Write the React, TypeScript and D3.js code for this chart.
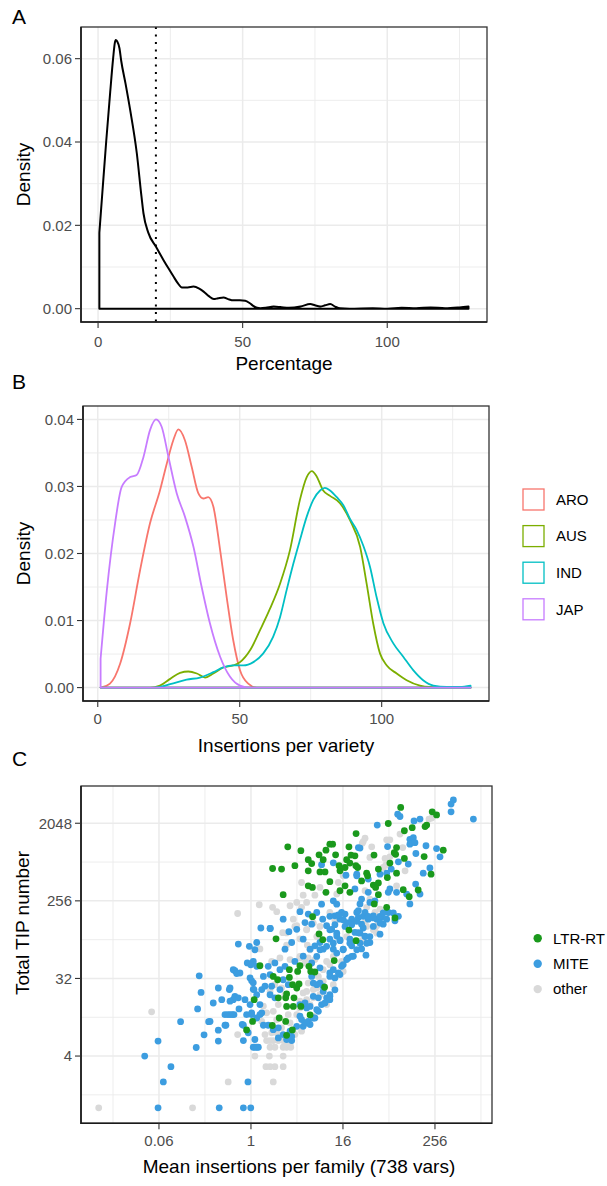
import React, { useEffect } from 'react';
import * as d3 from 'd3';

const FONT = "'Liberation Sans', Arial, Helvetica, sans-serif";

// ---------- Panel A: density of percentage ----------
const pctX = [0.45, 1.5, 2.8, 4.2, 5.2, 5.8, 6.1, 6.6, 7.4, 8.0, 9.5, 11.1, 13.4, 15.0, 15.7, 17.4, 20, 22.6, 24.5, 26.1, 27.5, 29, 31, 33, 35, 36.5, 38.3, 40, 41.5, 43.4, 45, 46.8, 49, 50.9, 52.5, 53.8, 55, 56.1, 58, 60.7, 63, 66, 70, 73.4, 75, 76.8, 78.5, 80.3, 82, 83.7, 87, 95, 100, 105, 110, 115, 120, 125, 128.1];
const pctDensity = [0.0182, 0.028, 0.040, 0.052, 0.0600, 0.0638, 0.0645, 0.0642, 0.0625, 0.0595, 0.054, 0.0477, 0.0373, 0.027, 0.0229, 0.0182, 0.0149, 0.0117, 0.0095, 0.0077, 0.0062, 0.0051, 0.0051, 0.0053, 0.0048, 0.0041, 0.003, 0.0023, 0.0025, 0.0027, 0.0023, 0.0020, 0.0020, 0.0019, 0.0013, 0.0006, 0.0002, 0.0001, 0.0002, 0.0005, 0.0004, 0.0002, 0.0005, 0.0011, 0.0008, 0.0005, 0.0008, 0.0011, 0.0005, 0.0001, 0.0, 0.0001, 0.0, 0.0002, 0.0001, 0.0003, 0.0001, 0.0003, 0.0005];
const pctCutoff = 20;
const pctXTicks = [0, 50, 100];
const pctXMinor = [25, 75, 125];
const densATicks = [0, 0.02, 0.04, 0.06];
const densAMinor = [0.01, 0.03, 0.05];

// ---------- Panel B: insertions per variety by group ----------
const groups = ['ARO', 'AUS', 'IND', 'JAP'];
const groupColors = ['#F8766D', '#7CAE00', '#00BFC4', '#C77CFF'];
const aroX = [1, 4.3, 7.9, 11.4, 14.9, 18.4, 21.9, 24.3, 26.6, 28.4, 30.7, 33.1, 35.4, 37.2, 38.9, 40.7, 43.1, 45.4, 47.7, 50.1, 53, 56, 60, 131.3];
const aroY = [0, 0.0006, 0.0036, 0.0096, 0.0175, 0.0245, 0.0294, 0.0334, 0.0369, 0.0385, 0.0369, 0.0329, 0.029, 0.0282, 0.0284, 0.027, 0.0205, 0.0135, 0.0071, 0.0026, 0.0006, 0, 0, 0];
const ausX = [1, 15, 18.4, 21.9, 25.5, 29, 31.9, 34.9, 37.8, 40.7, 44.2, 47.7, 50.1, 53.7, 57.2, 60.7, 64.2, 67.7, 71.2, 73.6, 75.4, 77.1, 79.4, 81.8, 85.3, 88.8, 92.4, 94.7, 97.0, 99.4, 101.8, 105.3, 108.8, 113.5, 117, 131.3];
const ausY = [0, 0, 0, 0.0003, 0.0013, 0.0022, 0.0024, 0.0021, 0.0015, 0.0021, 0.003, 0.0033, 0.0038, 0.0056, 0.0086, 0.0118, 0.0155, 0.0205, 0.028, 0.0314, 0.0323, 0.0315, 0.0294, 0.0286, 0.0275, 0.025, 0.021, 0.0155, 0.0096, 0.0051, 0.0033, 0.0021, 0.0011, 0.0003, 0.0001, 0];
const indX = [1, 19.7, 25.5, 31.3, 36, 40.7, 44.2, 47.7, 51.3, 54.8, 58.3, 61.8, 64.2, 66.5, 68.9, 71.2, 73.6, 75.9, 78.3, 80.0, 81.8, 84.2, 86.5, 88.8, 91.2, 93.5, 95.9, 98.2, 100.6, 104.1, 107.6, 111.1, 114.6, 118.2, 122.9, 127.6, 131.3];
const indY = [0, 0, 0.0005, 0.0012, 0.0015, 0.0023, 0.003, 0.0033, 0.0033, 0.0038, 0.0051, 0.0076, 0.0105, 0.0145, 0.0185, 0.022, 0.0255, 0.028, 0.0294, 0.0298, 0.0294, 0.0284, 0.0272, 0.0252, 0.0235, 0.0212, 0.018, 0.0135, 0.0096, 0.0066, 0.0046, 0.0026, 0.0011, 0.0003, 0.0001, 0.0001, 0.0003];
const japX = [1, 3.2, 6.1, 8.4, 11.4, 13.7, 16.1, 18.4, 20.5, 22.5, 24.9, 27.8, 30.7, 33.7, 36.6, 39.5, 43.1, 46.6, 50.1, 53.7, 131.3];
const japY = [0.0043, 0.0145, 0.0245, 0.0299, 0.0314, 0.0317, 0.0344, 0.0384, 0.0400, 0.0389, 0.0344, 0.029, 0.0255, 0.021, 0.015, 0.0096, 0.0046, 0.0016, 0.0003, 0, 0];
const insXTicks = [0, 50, 100];
const insXMinor = [25, 75, 125];
const densBTicks = [0, 0.01, 0.02, 0.03, 0.04];
const densBMinor = [0.005, 0.015, 0.025, 0.035];

// ---------- Panel C: [log2 mean insertions per family, log2 total TIP number] ----------
const otherPoints: [number, number][] = [
  [-6.62, 0], [-2.54, 0], [-4.32, 3.71], [-0.99, 1.0], [0.97, 1.0], [0.65, 1.59], [0.83, 1.59], [1.04, 1.59], [1.4, 1.59],
  [0.17, 2.0], [0.8, 2.0], [1.4, 2.0], [0.83, 2.34], [1.04, 2.34], [1.4, 2.34], [1.55, 2.34], [1.73, 2.34], [0.68, 2.6],
  [0.83, 2.6], [0.97, 2.6], [1.19, 2.6], [1.4, 2.6], [-0.58, 2.83], [0.54, 3.93], [0.68, 3.67], [0.47, 3.34], [0.61, 2.83],
  [0.9, 2.9], [1.12, 2.9], [1.33, 3.09], [1.12, 3.41], [0.97, 3.73], [1.19, 3.99], [1.62, 3.6], [1.99, 3.6], [2.13, 3.86],
  [2.57, 3.99], [2.71, 4.25], [3.0, 4.37], [2.86, 4.63], [3.14, 4.89], [2.42, 4.5], [2.49, 4.82], [2.13, 4.12], [0.83, 4.5],
  [1.33, 4.63], [1.48, 4.37], [1.04, 4.76], [0.9, 5.66], [1.26, 5.79], [1.7, 5.73], [2.13, 5.79], [2.49, 5.79], [2.78, 5.73],
  [3.43, 5.53], [3.94, 5.66], [4.01, 5.27], [3.58, 4.76], [3.29, 3.99], [2.71, 3.54], [2.2, 2.96], [1.91, 2.83], [1.55, 2.44],
  [-0.58, 7.51], [0.36, 7.85], [0.94, 7.75], [1.12, 7.58], [1.7, 7.81], [1.99, 7.94], [2.2, 7.75], [2.42, 7.94], [2.2, 8.71],
  [2.27, 8.22], [2.78, 8.22], [3.0, 8.52], [1.38, 6.77], [1.84, 7.29], [1.99, 7.04], [2.42, 6.9], [2.71, 7.42], [3.43, 7.55],
  [3.73, 8.26], [3.8, 8.71], [4.01, 8.97], [3.65, 7.23], [0.39, 6.14], [1.55, 6.29], [2.13, 6.53], [2.45, 6.29],
  [7.74, 11.16], [4.96, 10.42], [4.84, 10.23], [5.25, 10.09], [6.04, 10.36], [6.48, 10.58], [6.6, 10.06], [5.17, 9.68],
  [5.83, 9.64], [6.04, 9.7], [5.75, 9.29], [5.86, 9.38], [6.7, 9.16], [4.96, 8.39], [6.33, 8.58], [5.17, 8.07], [5.03, 7.75],
  [5.39, 7.55], [5.61, 7.68], [4.96, 7.16], [5.47, 7.04], [5.39, 6.85], [4.81, 6.46],
  [1.55, 6.76], [1.91, 7.01], [2.42, 6.88], [2.71, 7.14], [3.0, 7.01], [2.86, 6.62], [2.57, 6.11], [2.13, 5.85], [2.35, 5.6],
  [3.14, 5.34], [2.93, 5.08], [3.29, 5.66], [3.58, 5.85], [4.16, 6.62], [5.03, 7.01], [5.32, 6.88], [5.47, 6.75], [2.71, 4.57],
  [2.42, 4.18], [2.27, 4.44], [2.13, 4.05], [1.7, 3.28], [1.55, 2.64], [1.7, 2.44], [7.86, 11.2], [5.9, 10.36], [4.88, 10.29]
];
const mitePoints: [number, number][] = [
  [-4.04, 0], [-1.38, 0], [-0.33, 0], [-0.01, 0], [-2.25, 5.1], [-2.17, 4.46], [-2.32, 3.82], [-3.06, 3.33], [-1.84, 3.33],
  [-1.42, 3.0], [-2.04, 2.82], [-1.42, 2.58], [-4.04, 2.58], [-2.38, 2.33], [-4.62, 2.0], [-3.48, 1.59], [-3.81, 1.0],
  [-0.13, 1.0], [-0.33, 2.6], [0.1, 2.34], [0.32, 2.34], [1.77, 2.6],
  [-0.7, 5.3], [-0.48, 5.21], [0.1, 5.66], [0.25, 5.47], [-0.04, 5.02], [0.03, 4.91], [-0.91, 4.63], [-0.7, 4.31], [-0.77, 4.18],
  [-0.55, 4.25], [-0.52, 3.82], [-1.13, 3.6], [-0.91, 3.6], [-0.74, 3.6], [-1.13, 3.19], [-0.33, 3.19], [0.1, 4.58], [0.25, 4.37],
  [0.47, 4.57], [0.61, 4.7], [-0.04, 3.99], [0.03, 3.67], [0.25, 3.47], [0.47, 3.67], [0.39, 3.99], [0.17, 2.64], [0.54, 3.19],
  [0.75, 3.19], [0.97, 3.02], [1.19, 3.09], [1.4, 2.83], [1.77, 2.76], [1.99, 3.15], [2.27, 3.15], [2.49, 3.34], [0.83, 4.37],
  [1.04, 4.25], [0.9, 4.7], [1.26, 4.57], [1.4, 4.95], [1.62, 4.76], [0.83, 5.15], [0.54, 5.08], [0.75, 5.47], [1.04, 5.6],
  [1.26, 5.34], [1.48, 5.47], [1.91, 5.66], [2.27, 5.86], [2.64, 5.08], [3.0, 5.41], [3.43, 5.21], [3.65, 5.02], [3.87, 5.15],
  [4.01, 5.53], [4.23, 5.79], [4.45, 5.86], [2.13, 3.99], [2.42, 3.86], [2.2, 3.41], [2.35, 3.28], [2.57, 3.22], [2.78, 3.47],
  [2.93, 3.73], [3.07, 3.99], [3.29, 4.25], [3.43, 4.37], [3.14, 4.5], [2.86, 4.76], [2.93, 4.25], [1.19, 2.7], [1.55, 2.64], [1.7, 2.96],
  [0.43, 6.95], [0.84, 6.93], [-1.01, 3.6], [-0.81, 3.6], [-0.19, 3.6], [0.03, 3.6], [0.39, 3.6], [-0.91, 4.12], [-0.26, 4.18],
  [-0.77, 5.34], [-0.62, 5.19], [-0.16, 5.6], [-0.01, 5.53], [0.1, 4.83], [0.13, 4.57], [-0.94, 4.57], [-1.42, 4.63], [-1.27, 4.18],
  [-1.64, 4.05], [-1.78, 3.34], [-1.09, 3.19], [-0.38, 3.22], [-0.12, 2.9], [0.17, 2.34], [0.25, 2.34],
  [-0.55, 6.33], [-0.07, 6.24], [0.25, 6.39], [0.17, 6.11], [0.83, 6.93], [1.4, 7.29], [1.65, 6.81], [2.13, 7.58], [1.99, 6.9],
  [1.77, 6.39], [1.48, 6.13], [2.27, 6.52], [2.35, 7.16], [2.64, 7.1], [2.49, 7.49], [2.86, 7.55], [3.07, 7.87], [3.12, 7.29],
  [3.29, 7.04], [3.58, 8.0], [3.73, 7.87], [3.65, 7.42], [3.87, 7.29], [3.51, 6.9], [3.73, 6.64], [3.94, 7.55], [4.09, 7.49],
  [4.16, 7.16], [4.38, 7.29], [4.6, 7.55], [4.67, 7.36], [4.52, 6.78], [4.3, 6.52], [3.87, 6.46], [3.43, 6.52], [3.0, 6.39],
  [2.78, 6.26], [2.57, 6.13], [3.14, 6.13], [3.58, 6.13], [4.01, 6.13], [4.38, 6.26], [3.07, 9.4], [3.58, 9.47], [4.67, 10.06],
  [4.6, 9.03], [4.13, 8.99],
  [8.8, 11.9], [8.7, 11.74], [8.7, 11.44], [9.67, 11.16], [6.38, 11.35], [6.48, 11.26], [5.49, 10.93], [7.09, 11.09], [7.35, 11.16],
  [6.91, 10.38], [7.06, 10.44], [6.91, 10.19], [7.13, 10.25], [7.61, 10.13], [8.07, 10.02], [8.22, 9.7], [7.17, 9.83], [5.94, 10.1],
  [4.74, 10.04], [6.41, 9.51], [6.84, 9.42], [7.78, 9.27], [7.49, 9.07], [6.1, 9.23], [5.9, 9.07], [5.1, 8.84], [5.61, 9.03],
  [4.6, 8.97], [7.16, 8.65], [7.35, 8.26], [6.77, 8.26], [6.91, 7.88], [5.97, 8.33], [6.04, 8.46], [6.33, 8.33], [5.1, 8.33],
  [4.81, 8.07], [5.17, 7.94], [5.39, 8.0], [4.74, 7.88], [4.67, 7.62], [4.96, 7.55], [5.32, 7.42], [5.68, 7.36], [5.9, 7.29],
  [5.75, 7.1], [5.47, 7.29], [5.1, 7.29], [4.81, 7.1], [4.67, 6.77], [4.96, 6.64], [5.17, 6.39], [5.61, 6.71], [5.97, 7.55],
  [6.26, 7.23], [4.81, 6.14], [4.52, 8.46],
  [3.43, 7.4], [3.8, 7.46], [4.01, 7.27], [3.65, 7.08], [3.43, 6.88], [3.73, 6.75], [4.09, 7.01], [4.38, 7.08], [4.6, 7.21],
  [4.88, 7.4], [5.1, 7.4], [5.32, 7.34], [5.61, 7.4], [5.75, 7.53], [6.19, 7.53], [6.41, 7.4], [5.61, 7.14], [5.32, 7.01],
  [4.88, 6.95], [4.74, 6.75], [4.96, 6.62], [4.74, 6.36], [5.03, 6.36], [5.17, 6.62], [4.6, 6.11], [4.38, 5.85], [4.16, 5.73],
  [3.94, 5.47], [3.8, 5.21], [3.58, 5.34], [3.43, 5.08], [3.14, 4.69], [3.0, 4.82], [3.65, 4.56], [3.43, 4.31], [3.43, 4.18],
  [3.22, 4.05], [2.86, 3.79], [2.71, 3.47], [2.42, 3.28], [2.13, 3.54], [2.35, 4.05], [2.57, 3.92], [2.71, 4.31], [2.71, 4.82],
  [2.64, 5.6], [2.86, 5.85], [3.0, 6.11], [3.29, 6.24], [3.58, 6.36], [3.87, 6.49], [4.3, 6.36], [4.01, 6.11], [3.73, 5.98], [5.0, 5.9]
];
const ltrPoints: [number, number][] = [
  [-0.19, 3.01], [0.07, 3.34], [0.93, 3.18], [1.23, 3.47], [1.51, 3.34], [1.8, 3.01], [1.55, 2.8], [2.57, 3.59], [1.55, 3.92],
  [1.84, 3.92], [2.17, 3.92], [1.19, 4.25], [1.51, 4.25], [1.87, 4.25], [1.55, 4.4], [0.14, 4.18], [1.99, 4.63], [2.09, 4.79],
  [1.81, 4.76], [3.2, 4.66], [1.16, 4.95], [0.97, 5.08], [1.67, 5.04], [1.67, 5.34], [2.03, 5.27], [2.13, 5.49], [2.52, 5.47],
  [2.6, 5.27], [2.78, 5.25], [0.39, 5.49], [3.62, 5.69],
  [1.6, 10.09], [2.17, 9.94], [0.94, 9.25], [1.33, 9.23], [1.91, 9.36], [2.49, 9.59], [2.64, 9.44], [2.96, 9.78], [3.14, 9.59],
  [3.26, 9.96], [3.43, 10.19], [3.55, 10.19], [3.68, 9.78], [2.49, 9.16], [3.0, 9.12], [3.22, 9.12], [3.83, 9.36], [4.26, 10.09],
  [4.35, 9.77], [4.52, 9.74], [4.16, 9.59], [4.3, 9.46], [4.56, 9.36], [4.09, 9.29], [3.87, 9.16], [4.57, 10.6], [3.43, 8.74],
  [2.49, 8.58], [2.67, 8.52], [3.26, 8.33], [1.4, 8.24], [4.09, 8.58], [3.87, 8.39], [4.3, 8.33], [2.68, 7.39], [4.26, 6.87],
  [2.96, 6.72], [3.12, 6.5], [1.09, 6.53], [4.57, 6.46],
  [6.51, 11.61], [7.88, 11.44], [8.07, 11.32], [5.97, 10.99], [6.67, 10.71], [7.01, 10.83], [7.57, 10.87], [7.64, 10.93],
  [8.36, 9.96], [7.53, 9.71], [6.33, 10.06], [6.23, 9.86], [6.29, 9.8], [6.67, 9.64], [5.35, 9.77], [6.04, 9.46], [4.64, 9.29],
  [5.54, 9.23], [5.03, 9.07], [5.07, 8.97], [6.33, 9.07], [5.93, 8.9], [7.83, 9.03], [4.81, 8.77], [5.32, 8.61], [5.54, 8.69],
  [5.42, 8.52], [6.62, 8.43], [7.27, 8.42], [6.88, 8.16], [5.54, 8.24], [5.36, 7.88], [5.9, 7.75], [6.26, 7.34]
];
const tipClasses = ['LTR-RT', 'MITE', 'other'];
const tipColors = ['#1A991C', '#3C9DE0', '#D9D9D9'];
const meanTicks = [-4, 0, 4, 8];       // log2 of 0.06(25), 1, 16, 256
const meanMinor = [-6, -2, 2, 6, 10];
const totalTicks = [2, 5, 8, 11];      // log2 of 4, 32, 256, 2048
const totalMinor = [0.5, 3.5, 6.5, 9.5];
const fmtPow2 = (k: number) => (k < 0 ? (Math.pow(2, k)).toFixed(2) : String(Math.pow(2, k)));

const GRID = '#EBEBEB';
const TICKC = '#4D4D4D';
const BORDER = '#333333';

function densityPath(xs: number[], ys: number[], sx: any, sy: any) {
  const pts: [number, number][] = xs.map((x, i) => [sx(x), sy(ys[i])]);
  const c = d3.line().curve(d3.curveMonotoneX)(pts) as string;
  return `M${pts[0][0]},${sy(0)}L${c.slice(1)}L${pts[pts.length - 1][0]},${sy(0)}Z`;
}

function Grid({ sx, sy, xMaj, xMin, yMaj, yMin, L, R, T, B }: any) {
  return (
    <g>
      {yMin.map((v: number) => <line key={'ym' + v} x1={L} x2={R} y1={sy(v)} y2={sy(v)} stroke={GRID} strokeWidth={0.9} />)}
      {xMin.map((v: number) => <line key={'xm' + v} x1={sx(v)} x2={sx(v)} y1={T} y2={B} stroke={GRID} strokeWidth={0.9} />)}
      {yMaj.map((v: number) => <line key={'yM' + v} x1={L} x2={R} y1={sy(v)} y2={sy(v)} stroke={GRID} strokeWidth={1.5} />)}
      {xMaj.map((v: number) => <line key={'xM' + v} x1={sx(v)} x2={sx(v)} y1={T} y2={B} stroke={GRID} strokeWidth={1.5} />)}
    </g>
  );
}

function Axes({ sx, sy, xTicks, yTicks, xFmt, yFmt, L, R, T, B, xLabOff }: any) {
  return (
    <g fontFamily={FONT}>
      <rect x={L} y={T} width={R - L} height={B - T} fill="none" stroke={BORDER} strokeWidth={1.3} />
      <path d={`M${L},${T}V${B}H${R}`} fill="none" stroke="#1A1A1A" strokeWidth={1.6} />
      {yTicks.map((v: number) => (
        <g key={'yt' + v}>
          <line x1={L - 6} x2={L} y1={sy(v)} y2={sy(v)} stroke={BORDER} strokeWidth={1.1} />
          <text x={L - 9} y={sy(v) + 5.3} textAnchor="end" fontSize={15} fill={TICKC}>{yFmt(v)}</text>
        </g>
      ))}
      {xTicks.map((v: number) => (
        <g key={'xt' + v}>
          <line x1={sx(v)} x2={sx(v)} y1={B} y2={B + 6} stroke={BORDER} strokeWidth={1.1} />
          <text x={sx(v)} y={B + xLabOff} textAnchor="middle" fontSize={15} fill={TICKC}>{xFmt(v)}</text>
        </g>
      ))}
    </g>
  );
}

export default function App() {
  useEffect(() => {
    document.body.style.margin = '0';
  }, []);

  // Panel A
  const aL = 81, aR = 487, aT = 27, aB = 322;
  const ax = d3.scaleLinear().domain([-5.9, 134.5]).range([aL, aR]);
  const ay = d3.scaleLinear().domain([-0.0032, 0.0676]).range([aB, aT]);

  // Panel B
  const bL = 83, bR = 489, bT = 406, bB = 701;
  const bx = d3.scaleLinear().domain([-5.2, 137.8]).range([bL, bR]);
  const by = d3.scaleLinear().domain([-0.002, 0.042]).range([bB, bT]);
  const bSeries = [[aroX, aroY], [ausX, ausY], [indX, indY], [japX, japY]];

  // Panel C
  const cL = 81, cR = 492, cT = 786, cB = 1123.3;
  const cx = d3.scaleLinear().domain([-7.39, 10.48]).range([cL, cR]);
  const cy = d3.scaleLinear().domain([-0.6, 12.44]).range([cB, cT]);
  const cSeries: [number, number][][] = [otherPoints, mitePoints, ltrPoints];
  const cSeriesColor = [tipColors[2], tipColors[1], tipColors[0]];

  const fmtDens = (v: number) => v.toFixed(2);
  const fmtInt = (v: number) => String(v);

  return (
    <svg width={607} height={1186} style={{ position: 'absolute', left: 0, top: 0, background: '#fff' }} fontFamily={FONT}>
      <rect x={0} y={0} width={607} height={1186} fill="#fff" />

      {/* ---------- A ---------- */}
      <text x={12} y={24} fontSize={21} fill="#000">A</text>
      <Grid sx={ax} sy={ay} xMaj={pctXTicks} xMin={pctXMinor} yMaj={densATicks} yMin={densAMinor} L={aL} R={aR} T={aT} B={aB} />
      <path d={densityPath(pctX, pctDensity, ax, ay)} fill="none" stroke="#000" strokeWidth={2} strokeLinejoin="round" />
      <line x1={ax(pctCutoff)} x2={ax(pctCutoff)} y1={aT} y2={aB} stroke="#000" strokeWidth={2} strokeDasharray="2 5.5" />
      <Axes sx={ax} sy={ay} xTicks={pctXTicks} yTicks={densATicks} xFmt={fmtInt} yFmt={fmtDens} L={aL} R={aR} T={aT} B={aB} xLabOff={24.5} />
      <text x={(aL + aR) / 2} y={370} textAnchor="middle" fontSize={19} fill="#000">Percentage</text>
      <text transform={`translate(29.5,${(aT + aB) / 2}) rotate(-90)`} textAnchor="middle" fontSize={19} fill="#000">Density</text>

      {/* ---------- B ---------- */}
      <text x={12} y={389} fontSize={21} fill="#000">B</text>
      <Grid sx={bx} sy={by} xMaj={insXTicks} xMin={insXMinor} yMaj={densBTicks} yMin={densBMinor} L={bL} R={bR} T={bT} B={bB} />
      {bSeries.map((s, i) => (
        <path key={groups[i]} d={densityPath(s[0], s[1], bx, by)} fill="none" stroke={groupColors[i]} strokeWidth={1.8} strokeLinejoin="round" />
      ))}
      <Axes sx={bx} sy={by} xTicks={insXTicks} yTicks={densBTicks} xFmt={fmtInt} yFmt={fmtDens} L={bL} R={bR} T={bT} B={bB} xLabOff={22.5} />
      <text x={(bL + bR) / 2} y={751.5} textAnchor="middle" fontSize={19} fill="#000">Insertions per variety</text>
      <text transform={`translate(29.5,${(bT + bB) / 2}) rotate(-90)`} textAnchor="middle" fontSize={19} fill="#000">Density</text>
      {groups.map((g, i) => {
        const yc = 499.5 + i * 36.6;
        return (
          <g key={'lg' + g}>
            <rect x={523} y={yc - 10.5} width={21} height={21} fill="#fff" stroke={groupColors[i]} strokeWidth={1.3} />
            <text x={556} y={yc + 5.3} fontSize={15} fill="#000">{g}</text>
          </g>
        );
      })}

      {/* ---------- C ---------- */}
      <text x={12} y={766} fontSize={21} fill="#000">C</text>
      <Grid sx={cx} sy={cy} xMaj={meanTicks} xMin={meanMinor} yMaj={totalTicks} yMin={totalMinor} L={cL} R={cR} T={cT} B={cB} />
      {cSeries.map((pts, si) => (
        <g key={'cs' + si}>
          {pts.map((p, i) => (
            <circle key={i} cx={cx(p[0])} cy={cy(p[1])} r={3.4} fill={cSeriesColor[si]} />
          ))}
        </g>
      ))}
      <Axes sx={cx} sy={cy} xTicks={meanTicks} yTicks={totalTicks} xFmt={fmtPow2} yFmt={fmtPow2} L={cL} R={cR} T={cT} B={cB} xLabOff={22.7} />
      <text x={299} y={1173.3} textAnchor="middle" fontSize={19} fill="#000">Mean insertions per family (738 vars)</text>
      <text transform={`translate(29,923) rotate(-90)`} textAnchor="middle" fontSize={19} fill="#000">Total TIP number</text>
      {tipClasses.map((c, i) => {
        const yc = 938.3 + i * 25.4;
        return (
          <g key={'lc' + c}>
            <circle cx={537.7} cy={yc} r={4.2} fill={tipColors[i]} />
            <text x={553} y={yc + 5.3} fontSize={15} fill="#000">{c}</text>
          </g>
        );
      })}
    </svg>
  );
}
